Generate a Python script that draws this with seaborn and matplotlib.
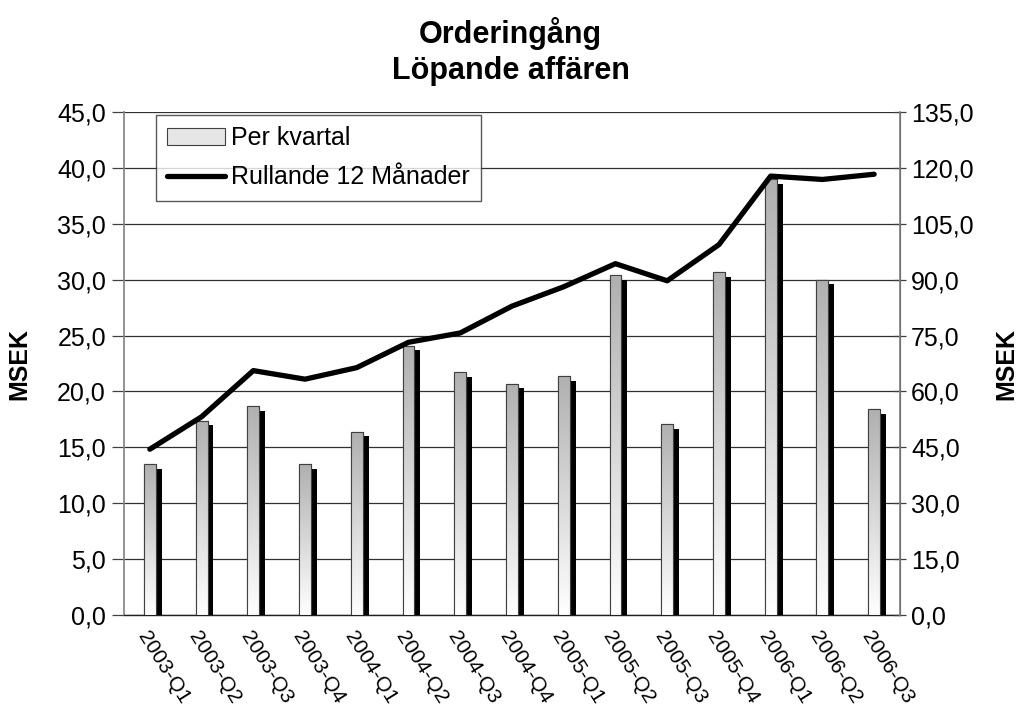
import numpy as np
import pandas as pd
import matplotlib
matplotlib.use("Agg")
import matplotlib.pyplot as plt
import matplotlib.patheffects as pe
from matplotlib.colors import LinearSegmentedColormap
from matplotlib.patches import Patch
from matplotlib.lines import Line2D
from matplotlib.ticker import MultipleLocator, FuncFormatter
import seaborn as sns

# --- dati ---
kvartal = ["2003-Q1", "2003-Q2", "2003-Q3", "2003-Q4",
           "2004-Q1", "2004-Q2", "2004-Q3", "2004-Q4",
           "2005-Q1", "2005-Q2", "2005-Q3", "2005-Q4",
           "2006-Q1", "2006-Q2", "2006-Q3"]
per_kvartal = [13.5, 17.4, 18.7, 13.5, 16.4, 24.1, 21.7, 20.7,
               21.4, 30.4, 17.1, 30.7, 39.0, 30.0, 18.4]
rullande_12 = [44.5, 53.2, 65.6, 63.3, 66.4, 73.2, 75.7, 82.9,
               88.1, 94.3, 89.7, 99.4, 117.8, 116.9, 118.3]

df = pd.DataFrame({"Kvartal": kvartal, "Per kvartal": per_kvartal,
                   "Rullande": rullande_12})

sns.set_style("white")
plt.rcParams["font.family"] = ["Liberation Sans", "DejaVu Sans"]
plt.rcParams["text.color"] = "black"
plt.rcParams["axes.labelcolor"] = "black"
plt.rcParams["xtick.labelcolor"] = "black"
plt.rcParams["ytick.labelcolor"] = "black"

fig = plt.figure(figsize=(10.21, 7.13), dpi=100)
ax = fig.add_axes([0.1214, 0.1374, 0.7601, 0.7055])

sns.barplot(data=df, x="Kvartal", y="Per kvartal", ax=ax, width=0.23,
            color="white", edgecolor="#404040", linewidth=0.8, zorder=3)

# ombra nera + gradiente grigio->bianco su ogni barra
cmap = LinearSegmentedColormap.from_list("grad", ["#ffffff", "#b0b0b0"])
grad = np.linspace(1, 0, 256).reshape(-1, 1)
for bar in ax.patches:
    bar.set_path_effects([pe.SimplePatchShadow(offset=(4.3, -3.4),
                                               shadow_rgbFace="black", alpha=1.0),
                          pe.Normal()])
    x0, y0 = bar.get_x(), bar.get_y()
    w, h = bar.get_width(), bar.get_height()
    im = ax.imshow(grad, extent=[x0, x0 + w, y0, y0 + h], aspect="auto",
                   cmap=cmap, vmin=0, vmax=1, zorder=3.5)
    im.set_clip_path(bar)
    edge = plt.Rectangle((x0, y0), w, h, fill=False, edgecolor="#404040",
                         linewidth=0.8, zorder=3.6)
    ax.add_patch(edge)

ax.set_xlim(-0.5, len(kvartal) - 0.5)
ax.set_ylim(0, 45)
ax.yaxis.set_major_locator(MultipleLocator(5))
fmt = FuncFormatter(lambda v, p: f"{v:.1f}".replace(".", ","))
ax.yaxis.set_major_formatter(fmt)
ax.grid(axis="y", color="#303030", linewidth=0.9, zorder=0)
ax.set_axisbelow(True)

ax.set_xticks(np.arange(len(kvartal)))
ax.set_xticklabels(kvartal, rotation=-58, ha="left", va="top",
                   rotation_mode="anchor", fontsize=15)
ax.set_xticks(np.arange(-0.5, len(kvartal), 1), minor=True)
ax.tick_params(axis="x", which="major", length=0, pad=9)
ax.tick_params(axis="x", which="minor", length=12, direction="inout",
               width=0.9, color="#404040")
ax.tick_params(axis="y", which="major", length=9, direction="out",
               width=0.9, color="#404040", labelsize=18, pad=4, left=True)
ax.set_xlabel("")
ax.set_ylabel("MSEK", fontsize=18, fontweight="bold")
ax.yaxis.set_label_coords(-0.119, 0.5)

ax.spines["top"].set_visible(False)
ax.spines["left"].set_color("#808080")
ax.spines["left"].set_linewidth(1.2)
ax.spines["bottom"].set_color("#202020")
ax.spines["bottom"].set_linewidth(1.0)

# asse destro: rullande 12 manader
ax2 = ax.twinx()
sns.lineplot(data=df, x="Kvartal", y="Rullande", ax=ax2, color="black",
             linewidth=3.8, sort=False, solid_capstyle="round", zorder=5)
ax2.set_ylim(0, 135)
ax2.set_xlim(-0.5, len(kvartal) - 0.5)
ax2.yaxis.set_major_locator(MultipleLocator(15))
ax2.yaxis.set_major_formatter(fmt)
ax2.tick_params(axis="y", length=8, direction="inout", width=0.9,
                color="#404040", labelsize=18, pad=4, right=True)
ax2.set_ylabel("MSEK", fontsize=18, fontweight="bold")
ax2.yaxis.set_label_coords(1.121, 0.5)
ax2.set_xlabel("")
ax2.spines["top"].set_visible(False)
ax2.spines["left"].set_visible(False)
ax2.spines["bottom"].set_visible(False)
ax2.spines["right"].set_color("#808080")
ax2.spines["right"].set_linewidth(1.2)
ax2.grid(False)

handles = [Patch(facecolor="#e6e6e6", edgecolor="#404040", linewidth=0.8),
           Line2D([0], [0], color="black", linewidth=3.8, solid_capstyle="round")]
leg = ax2.legend(handles, ["Per kvartal", "Rullande 12 Månader"],
                 loc="upper left", bbox_to_anchor=(0.041, 0.994),
                 borderaxespad=0, fontsize=18, frameon=True, fancybox=False,
                 handlelength=2.3, handleheight=0.7, handletextpad=0.25,
                 labelspacing=0.6, borderpad=0.45, edgecolor="#303030")
leg.get_frame().set_linewidth(1.0)
leg.set_zorder(10)

fig.text(0.5, 0.953, "Orderingång", ha="center", va="center",
         fontsize=22, fontweight="bold")
fig.text(0.5, 0.900, "Löpande affären", ha="center", va="center",
         fontsize=22, fontweight="bold")

fig.savefig("out.png", dpi=100)
